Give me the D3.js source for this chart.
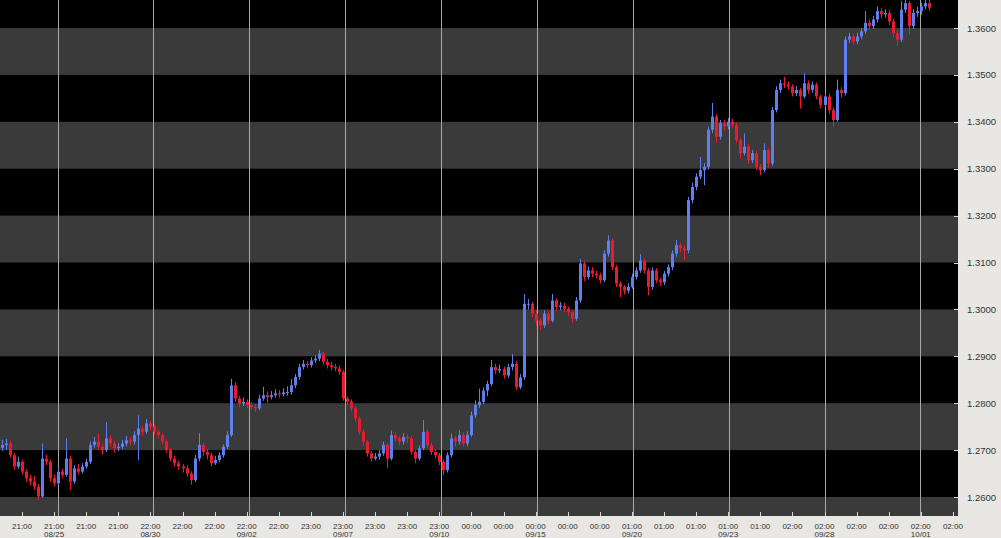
<!DOCTYPE html>
<html>
<head>
<meta charset="utf-8">
<script src="https://cdn.jsdelivr.net/npm/d3@7"></script>
<style>
html,body{margin:0;padding:0;background:#e9e7e4;}
svg{display:block;}
</style>
</head>
<body>
<svg id="chart" width="1001" height="538"></svg>
<script>
// ---- data (hourly-ish candles) ----
const opens = [1.2705,1.2711,1.2714,1.2689,1.2665,1.2675,1.2654,1.2640,1.2633,1.2622,
1.2601,1.2682,1.2675,1.2640,1.2629,1.2654,1.2647,1.2682,1.2633,1.2661,
1.2654,1.2665,1.2675,1.2711,1.2718,1.2707,1.2700,1.2725,1.2714,1.2704,
1.2707,1.2714,1.2721,1.2718,1.2732,1.2746,1.2739,1.2757,1.2750,1.2739,
1.2732,1.2718,1.2700,1.2682,1.2672,1.2665,1.2661,1.2650,1.2636,1.2682,
1.2711,1.2696,1.2689,1.2672,1.2679,1.2689,1.2707,1.2732,1.2838,1.2810,
1.2799,1.2803,1.2796,1.2792,1.2789,1.2810,1.2817,1.2813,1.2817,1.2821,
1.2819,1.2823,1.2824,1.2838,1.2856,1.2877,1.2884,1.2881,1.2891,1.2895,
1.2906,1.2888,1.2881,1.2877,1.2874,1.2867,1.2810,1.2803,1.2789,1.2767,
1.2739,1.2718,1.2693,1.2682,1.2686,1.2693,1.2711,1.2682,1.2732,1.2725,
1.2718,1.2728,1.2725,1.2696,1.2682,1.2704,1.2739,1.2711,1.2696,1.2689,
1.2675,1.2657,1.2689,1.2725,1.2718,1.2732,1.2714,1.2732,1.2774,1.2796,
1.2803,1.2827,1.2841,1.2877,1.2870,1.2873,1.2859,1.2877,1.2884,1.2834,
1.2855,1.3012,1.3012,1.2991,1.2976,1.2966,1.2991,1.2976,1.3019,1.3005,
1.3008,1.3001,1.2994,1.2980,1.3019,1.3098,1.3069,1.3083,1.3076,1.3073,
1.3062,1.3119,1.3147,1.3090,1.3055,1.3048,1.3040,1.3048,1.3069,1.3083,
1.3104,1.3083,1.3048,1.3083,1.3062,1.3058,1.3076,1.3090,1.3119,1.3137,
1.3130,1.3126,1.3233,1.3261,1.3283,1.3297,1.3304,1.3383,1.3411,1.3368,
1.3397,1.3390,1.3400,1.3393,1.3361,1.3333,1.3347,1.3318,1.3333,1.3304,
1.3297,1.3340,1.3311,1.3425,1.3468,1.3482,1.3479,1.3475,1.3461,1.3468,
1.3454,1.3482,1.3468,1.3479,1.3454,1.3436,1.3454,1.3425,1.3404,1.3468,
1.3461,1.3575,1.3582,1.3571,1.3582,1.3593,1.3611,1.3604,1.3618,1.3636,
1.3629,1.3632,1.3614,1.3589,1.3575,1.3639,1.3653,1.3604,1.3632,1.3636,
1.3646,1.3653];
const closes = [1.2711,1.2714,1.2689,1.2665,1.2675,1.2654,1.2640,1.2633,1.2622,1.2601,
1.2682,1.2675,1.2640,1.2629,1.2654,1.2647,1.2682,1.2633,1.2661,1.2654,
1.2665,1.2675,1.2711,1.2718,1.2707,1.2700,1.2725,1.2714,1.2704,1.2707,
1.2714,1.2721,1.2718,1.2732,1.2746,1.2739,1.2757,1.2750,1.2739,1.2732,
1.2718,1.2700,1.2682,1.2672,1.2665,1.2661,1.2650,1.2636,1.2682,1.2711,
1.2696,1.2689,1.2672,1.2679,1.2689,1.2707,1.2732,1.2838,1.2810,1.2799,
1.2803,1.2796,1.2792,1.2789,1.2810,1.2817,1.2813,1.2817,1.2821,1.2819,
1.2823,1.2824,1.2838,1.2856,1.2877,1.2884,1.2881,1.2891,1.2895,1.2906,
1.2888,1.2881,1.2877,1.2874,1.2867,1.2810,1.2803,1.2789,1.2767,1.2739,
1.2718,1.2693,1.2682,1.2686,1.2693,1.2711,1.2682,1.2732,1.2725,1.2718,
1.2728,1.2725,1.2696,1.2682,1.2704,1.2739,1.2711,1.2696,1.2689,1.2675,
1.2657,1.2689,1.2725,1.2718,1.2732,1.2714,1.2732,1.2774,1.2796,1.2803,
1.2827,1.2841,1.2877,1.2870,1.2873,1.2859,1.2877,1.2884,1.2834,1.2855,
1.3012,1.3012,1.2991,1.2976,1.2966,1.2991,1.2976,1.3019,1.3005,1.3008,
1.3001,1.2994,1.2980,1.3019,1.3098,1.3069,1.3083,1.3076,1.3073,1.3062,
1.3119,1.3147,1.3090,1.3055,1.3048,1.3040,1.3048,1.3069,1.3083,1.3104,
1.3083,1.3048,1.3083,1.3062,1.3058,1.3076,1.3090,1.3119,1.3137,1.3130,
1.3126,1.3233,1.3261,1.3283,1.3297,1.3304,1.3383,1.3411,1.3368,1.3397,
1.3390,1.3400,1.3393,1.3361,1.3333,1.3347,1.3318,1.3333,1.3304,1.3297,
1.3340,1.3311,1.3425,1.3468,1.3482,1.3479,1.3475,1.3461,1.3468,1.3454,
1.3482,1.3468,1.3479,1.3454,1.3436,1.3454,1.3425,1.3404,1.3468,1.3461,
1.3575,1.3582,1.3571,1.3582,1.3593,1.3611,1.3604,1.3618,1.3636,1.3629,
1.3632,1.3614,1.3589,1.3575,1.3639,1.3653,1.3604,1.3632,1.3636,1.3646,
1.3653,1.3643];
const highs = [1.2722,1.2724,1.2720,1.2694,1.2686,1.2680,1.2660,1.2648,1.2645,1.2628,
1.2714,1.2690,1.2680,1.2648,1.2662,1.2660,1.2725,1.2688,1.2668,1.2670,
1.2672,1.2682,1.2718,1.2728,1.2736,1.2714,1.2760,1.2732,1.2720,1.2715,
1.2722,1.2730,1.2728,1.2740,1.2774,1.2752,1.2766,1.2762,1.2755,1.2744,
1.2736,1.2722,1.2705,1.2688,1.2678,1.2670,1.2668,1.2655,1.2690,1.2736,
1.2716,1.2702,1.2694,1.2688,1.2695,1.2712,1.2740,1.2852,1.2845,1.2815,
1.2812,1.2808,1.2802,1.2798,1.2818,1.2835,1.2825,1.2826,1.2830,1.2828,
1.2832,1.2836,1.2852,1.2862,1.2884,1.2892,1.2890,1.2898,1.2902,1.2914,
1.2910,1.2894,1.2888,1.2884,1.2880,1.2870,1.2815,1.2808,1.2794,1.2772,
1.2744,1.2722,1.2698,1.2694,1.2700,1.2718,1.2715,1.2742,1.2738,1.2730,
1.2736,1.2734,1.2730,1.2700,1.2710,1.2764,1.2744,1.2716,1.2702,1.2694,
1.2680,1.2695,1.2735,1.2730,1.2742,1.2738,1.2740,1.2782,1.2806,1.2831,
1.2834,1.2848,1.2892,1.2884,1.2882,1.2878,1.2884,1.2905,1.2890,1.2862,
1.3033,1.3022,1.3016,1.2998,1.2982,1.2998,1.2996,1.3033,1.3024,1.3016,
1.3014,1.3006,1.2998,1.3026,1.3108,1.3104,1.3092,1.3090,1.3082,1.3078,
1.3126,1.3158,1.3152,1.3095,1.3060,1.3052,1.3056,1.3076,1.3090,1.3118,
1.3108,1.3088,1.3090,1.3088,1.3068,1.3082,1.3096,1.3126,1.3148,1.3142,
1.3136,1.3240,1.3270,1.3290,1.3325,1.3312,1.3390,1.3440,1.3416,1.3404,
1.3404,1.3408,1.3406,1.3398,1.3366,1.3375,1.3352,1.3340,1.3338,1.3310,
1.3354,1.3345,1.3432,1.3476,1.3490,1.3496,1.3486,1.3480,1.3476,1.3472,
1.3504,1.3488,1.3486,1.3484,1.3458,1.3462,1.3460,1.3430,1.3490,1.3474,
1.3582,1.3590,1.3588,1.3590,1.3600,1.3636,1.3618,1.3626,1.3646,1.3642,
1.3640,1.3638,1.3620,1.3595,1.3658,1.3662,1.3658,1.3640,1.3645,1.3654,
1.3662,1.3660];
const lows = [1.2698,1.2700,1.2684,1.2658,1.2660,1.2648,1.2632,1.2625,1.2615,1.2594,
1.2598,1.2668,1.2632,1.2622,1.2625,1.2640,1.2643,1.2615,1.2628,1.2648,
1.2650,1.2660,1.2670,1.2705,1.2700,1.2690,1.2696,1.2708,1.2695,1.2698,
1.2702,1.2708,1.2710,1.2712,1.2678,1.2730,1.2735,1.2742,1.2732,1.2725,
1.2712,1.2694,1.2676,1.2665,1.2658,1.2652,1.2643,1.2626,1.2632,1.2676,
1.2688,1.2680,1.2665,1.2668,1.2674,1.2684,1.2702,1.2728,1.2802,1.2792,
1.2794,1.2789,1.2785,1.2781,1.2785,1.2805,1.2800,1.2808,1.2812,1.2812,
1.2815,1.2816,1.2818,1.2832,1.2850,1.2872,1.2874,1.2876,1.2886,1.2890,
1.2882,1.2874,1.2870,1.2868,1.2860,1.2805,1.2795,1.2782,1.2760,1.2732,
1.2710,1.2686,1.2676,1.2678,1.2680,1.2688,1.2661,1.2678,1.2718,1.2710,
1.2712,1.2716,1.2690,1.2672,1.2678,1.2700,1.2704,1.2690,1.2682,1.2668,
1.2646,1.2652,1.2684,1.2708,1.2712,1.2708,1.2708,1.2728,1.2768,1.2790,
1.2798,1.2815,1.2836,1.2862,1.2864,1.2852,1.2854,1.2870,1.2828,1.2830,
1.2850,1.3000,1.2984,1.2966,1.2956,1.2960,1.2968,1.2972,1.2998,1.2998,
1.2994,1.2986,1.2972,1.2976,1.3014,1.3060,1.3064,1.3068,1.3066,1.3055,
1.3058,1.3112,1.3084,1.3048,1.3026,1.3032,1.3034,1.3044,1.3064,1.3078,
1.3076,1.3030,1.3042,1.3056,1.3050,1.3052,1.3070,1.3084,1.3112,1.3122,
1.3105,1.3120,1.3226,1.3254,1.3278,1.3265,1.3298,1.3376,1.3355,1.3362,
1.3382,1.3384,1.3386,1.3354,1.3322,1.3328,1.3310,1.3312,1.3297,1.3286,
1.3292,1.3302,1.3306,1.3420,1.3462,1.3472,1.3468,1.3454,1.3455,1.3428,
1.3450,1.3460,1.3462,1.3448,1.3428,1.3432,1.3418,1.3390,1.3400,1.3452,
1.3456,1.3568,1.3564,1.3566,1.3576,1.3588,1.3596,1.3598,1.3612,1.3620,
1.3622,1.3606,1.3580,1.3562,1.3570,1.3632,1.3585,1.3598,1.3624,1.3628,
1.3640,1.3636];

const priceTicks = [1.26,1.27,1.28,1.29,1.30,1.31,1.32,1.33,1.34,1.35,1.36];
const tickTimes = ["21:00","21:00","21:00","21:00","22:00","22:00","22:00","22:00","22:00","23:00",
"23:00","23:00","23:00","23:00","00:00","00:00","00:00","00:00","00:00","01:00",
"01:00","01:00","01:00","01:00","02:00","02:00","02:00","02:00","02:00","02:00"];
const tickDates = ["","08/25","","","08/30","","","09/02","","",
"09/07","","","09/10","","","09/15","","","09/20",
"","","09/23","","","09/28","","","10/01",""];
// day separators (candle index where the date changes)
const dayLines = [14,37.6,61.5,85.5,109.4,133.4,157.3,181.2,205.1,228.8];

// ---- layout ----
const W = 1001, H = 538;
const plot = {l:0, r:958, t:0, b:516};
const svg = d3.select("#chart");

const candleStep = 4.0125;
const x = d3.scaleLinear().domain([0, 1]).range([1.94, 1.94 + candleStep]);
const y = d3.scaleLinear().domain([1.26, 1.36]).range([497, 28]);

svg.append("rect").attr("x",0).attr("y",0).attr("width",W).attr("height",H).attr("fill","#e9e7e4");

const clip = svg.append("defs").append("clipPath").attr("id","pc");
clip.append("rect").attr("x",plot.l).attr("y",plot.t).attr("width",plot.r-plot.l).attr("height",plot.b-plot.t);

const g = svg.append("g").attr("clip-path","url(#pc)");
g.append("rect").attr("x",plot.l).attr("y",plot.t).attr("width",plot.r-plot.l).attr("height",plot.b-plot.t).attr("fill","#000");

// alternating bands
const bandStarts = d3.range(125, 137).map(v => v/100);
g.selectAll("rect.band").data(bandStarts.filter(v => Math.round(v*100) % 2 === 1))
  .enter().append("rect").attr("class","band")
  .attr("x", plot.l).attr("width", plot.r - plot.l)
  .attr("y", d => y(d + 0.01)).attr("height", d => y(d) - y(d + 0.01))
  .attr("fill", "#3a3a3a");

// vertical day lines
g.selectAll("line.day").data(dayLines).enter().append("line")
  .attr("x1", d => Math.round(x(d)) + 0.5).attr("x2", d => Math.round(x(d)) + 0.5)
  .attr("y1", plot.t).attr("y2", plot.b)
  .attr("stroke", "#a8a8a8").attr("stroke-width", 1);

// candles
const data = closes.map((c, i) => ({i, o: opens[i], c, h: highs[i], l: lows[i]}));
const up = "#5d7ff0", down = "#ec1a2e";
const cg = g.append("g");
cg.selectAll("line.wick").data(data).enter().append("line")
  .attr("x1", d => Math.round(x(d.i)) + 0.5).attr("x2", d => Math.round(x(d.i)) + 0.5)
  .attr("y1", d => y(d.h)).attr("y2", d => y(d.l))
  .attr("stroke", d => d.c >= d.o ? up : down).attr("stroke-width", 1);
cg.selectAll("rect.body").data(data).enter().append("rect")
  .attr("x", d => Math.round(x(d.i)) - 1)
  .attr("width", 3)
  .attr("y", d => y(Math.max(d.o, d.c)))
  .attr("height", d => Math.max(1, Math.abs(y(d.o) - y(d.c))))
  .attr("fill", d => d.c >= d.o ? up : down);

// right price axis
const yAxis = svg.append("g");
yAxis.selectAll("line").data(priceTicks).enter().append("line")
  .attr("x1", plot.r - 4).attr("x2", plot.r)
  .attr("y1", d => Math.round(y(d)) + 0.5).attr("y2", d => Math.round(y(d)) + 0.5)
  .attr("stroke", "#d8d8d8");
yAxis.selectAll("text").data(priceTicks).enter().append("text")
  .attr("x", 967).attr("y", d => y(d) + 3.5)
  .attr("font-family", "Liberation Sans, Arial, sans-serif")
  .attr("font-size", "9.5px").attr("fill", "#333")
  .text(d => d3.format(".4f")(d));

// bottom time axis
const tickIdx = tickTimes.map((t, k) => 5 + 8 * k);
const xAxis = svg.append("g");
xAxis.selectAll("line").data(tickIdx).enter().append("line")
  .attr("x1", d => Math.round(x(d)) + 0.5).attr("x2", d => Math.round(x(d)) + 0.5)
  .attr("y1", plot.b - 4).attr("y2", plot.b)
  .attr("stroke", "#d8d8d8");
xAxis.selectAll("text.t").data(tickIdx).enter().append("text").attr("class","t")
  .attr("x", d => x(d)).attr("y", 528.5).attr("text-anchor","middle")
  .attr("font-family", "Liberation Sans, Arial, sans-serif")
  .attr("font-size", "8px").attr("fill", "#333")
  .text((d, k) => tickTimes[k]);
xAxis.selectAll("text.d").data(tickIdx).enter().append("text").attr("class","d")
  .attr("x", d => x(d)).attr("y", 536.5).attr("text-anchor","middle")
  .attr("font-family", "Liberation Sans, Arial, sans-serif")
  .attr("font-size", "8px").attr("fill", "#333")
  .text((d, k) => tickDates[k]);
</script>
</body>
</html>
